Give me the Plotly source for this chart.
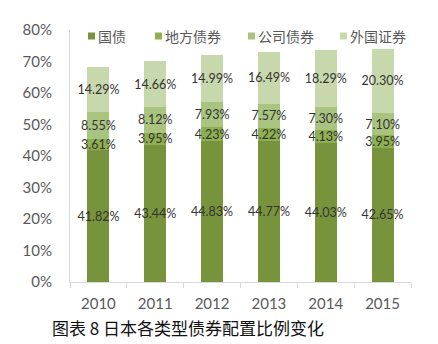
import plotly.graph_objects as go

years = ["2010", "2011", "2012", "2013", "2014", "2015"]
gov = [41.82, 43.44, 44.83, 44.77, 44.03, 42.65]
local = [3.61, 3.95, 4.23, 4.22, 4.13, 3.95]
corp = [8.55, 8.12, 7.93, 7.57, 7.30, 7.10]
foreign = [14.29, 14.66, 14.99, 16.49, 18.29, 20.30]
names = ["国债", "地方债券", "公司债券", "外国证券"]
colors = ["#77933C", "#8FB050", "#A9C47F", "#C8D8AD"]
caption = "图表 8 日本各类型债券配置比例变化"

W, H = 438, 344
L, R, T, B = 70, 27, 30, 62

fig = go.Figure()
for name, vals, col in zip(names, [gov, local, corp, foreign], colors):
    lab_font = dict(family="Lato", size=12.5, color="#333333")
    fig.add_trace(go.Bar(
        x=years, y=[v / 100 for v in vals], name=name,
        marker=dict(color=col, line=dict(width=0)),
        text=[f"{v:.2f}%" for v in vals],
        textposition="inside", insidetextanchor="middle",
        constraintext="none", textangle=0,
        textfont=lab_font, insidetextfont=lab_font,
        showlegend=False,
    ))

fig.update_layout(
    barmode="stack", bargap=0.614,
    width=W, height=H,
    margin=dict(l=L, r=R, t=T, b=B),
    paper_bgcolor="white", plot_bgcolor="white",
    font=dict(family="Lato", color="#595959"),
)
fig.update_yaxes(
    range=[0, 0.8], dtick=0.1, tickformat=".0%",
    showgrid=False, zeroline=False,
    showline=True, linecolor="#D9D9D9", linewidth=1,
    ticks="", ticklabelstandoff=14,
    tickfont=dict(family="Lato", size=15, color="#595959"),
)
fig.update_xaxes(
    showgrid=False, showline=True, linecolor="#D9D9D9", linewidth=1,
    ticks="outside", tickson="boundaries", ticklen=5, tickcolor="#D9D9D9",
    ticklabelstandoff=8,
    tickfont=dict(family="Lato", size=15, color="#595959"),
)

# legend drawn as squares + labels
pw, ph = W - L - R, H - T - B
def px2x(px): return (px - L) / pw
def py2y(py): return (H - B - py) / ph

leg_x = [88, 155, 248, 340]
leg_cy = 36
for lx, name, col in zip(leg_x, names, colors):
    fig.add_shape(type="rect", xref="paper", yref="paper",
                  x0=px2x(lx), x1=px2x(lx + 7),
                  y0=py2y(leg_cy + 3.5), y1=py2y(leg_cy - 3.5),
                  fillcolor=col, line=dict(width=0))
    fig.add_annotation(xref="paper", yref="paper", x=px2x(lx + 8), y=py2y(leg_cy),
                       text=name, showarrow=False, xanchor="left", yanchor="middle",
                       font=dict(family="Noto Sans CJK SC", size=14, color="#595959"))

fig.add_annotation(xref="paper", yref="paper", x=px2x(50), y=py2y(327),
                   text=caption, showarrow=False, xanchor="left", yanchor="middle",
                   font=dict(family="Noto Sans CJK SC", size=17, color="#111111"))

fig.write_html("out.html")
